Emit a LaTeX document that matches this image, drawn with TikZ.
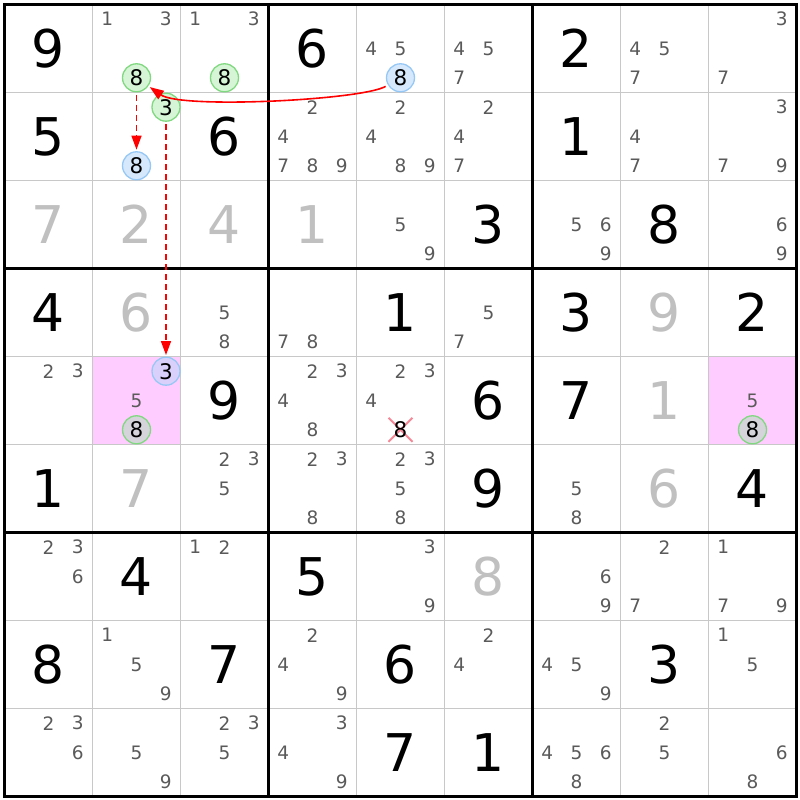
\documentclass[tikz,border=0pt]{standalone}
\usepackage{fontspec}
\setmainfont{DejaVu Sans}
\usetikzlibrary{arrows.meta}
\definecolor{candc}{RGB}{90,90,90}
\definecolor{solvedc}{RGB}{192,192,192}
\definecolor{thinc}{RGB}{200,200,200}
\definecolor{pinkc}{RGB}{255,204,255}
\definecolor{gstroke}{RGB}{128,216,128}
\definecolor{gfill}{RGB}{214,245,214}
\definecolor{bstroke}{RGB}{150,200,245}
\definecolor{bfill}{RGB}{214,232,252}
\definecolor{lavfill}{RGB}{218,208,252}
\definecolor{greyfill}{RGB}{212,212,218}
\definecolor{xcol}{RGB}{245,135,150}
\definecolor{linkc}{RGB}{255,0,0}
\tikzset{
  given/.style={inner sep=0pt, font=\fontsize{52bp}{52bp}\selectfont, text=black},
  solved/.style={given, text=solvedc},
  cand/.style={inner sep=0pt, font=\fontsize{18.5bp}{18.5bp}\selectfont, text=candc},
  bigcand/.style={inner sep=0pt, font=\fontsize{21.5bp}{21.5bp}\selectfont, text=black},
  circ/.style={circle, minimum size=28bp, inner sep=0pt, line width=1.3bp, font=\fontsize{21.5bp}{21.5bp}\selectfont, text=black},
  gcirc/.style={circ, draw=gstroke, fill=gfill},
  bcirc/.style={circ, draw=bstroke, fill=bfill},
  arr/.style={draw=linkc, line width=1.6bp, -{Triangle[length=14bp,width=10bp]}, shorten >=1.5bp, shorten <=2.5bp},
  darr/.style={arr, dash pattern=on 6bp off 4bp}
}
\begin{document}
\begin{tikzpicture}[x=1bp,y=1bp]
\useasboundingbox (0,0) rectangle (800,800);
\fill[white] (0,0) rectangle (800,800);
% highlighted cells
\fill[pinkc] (92.5,443.5) rectangle (180.5,355.5);
\fill[pinkc] (708.5,443.5) rectangle (796.5,355.5);
% thin grid lines
\foreach \i in {1,2,4,5,7,8} {
  \draw[thinc, line width=1.5bp] (4.5+88*\i,3.5) -- (4.5+88*\i,795.5);
  \draw[thinc, line width=1.5bp] (4.5,795.5-88*\i) -- (796.5,795.5-88*\i);
}
% thick grid lines
\foreach \i in {3,6} {
  \draw[black, line width=3bp] (4.5+88*\i,3.5) -- (4.5+88*\i,795.5);
  \draw[black, line width=3bp] (4.5,795.5-88*\i) -- (796.5,795.5-88*\i);
}
\draw[black, line width=3bp] (4.5,3.5) rectangle (796.5,795.5);
% givens
\foreach \r/\c/\d in {1/1/9,1/4/6,1/7/2,2/1/5,2/3/6,2/7/1,3/6/3,3/8/8,4/1/4,4/5/1,4/7/3,4/9/2,5/3/9,5/6/6,5/7/7,6/1/1,6/6/9,6/9/4,7/2/4,7/4/5,8/1/8,8/3/7,8/5/6,8/8/3,9/5/7,9/6/1} {
  \pgfmathsetmacro\X{4.5+(\c-0.5)*88}
  \pgfmathsetmacro\Y{795.5-(\r-0.5)*88}
  \node[given] (v-\r-\c) at (\X,\Y) {\d};
}
% solved
\foreach \r/\c/\d in {3/1/7,3/2/2,3/3/4,3/4/1,4/2/6,4/8/9,5/8/1,6/2/7,6/8/6,7/6/8} {
  \pgfmathsetmacro\X{4.5+(\c-0.5)*88}
  \pgfmathsetmacro\Y{795.5-(\r-0.5)*88}
  \node[solved] (s-\r-\c) at (\X,\Y) {\d};
}
% candidates
\foreach \r/\c/\L in {1/2/{1,3},1/3/{1,3},1/5/{4,5},1/6/{4,5,7},1/8/{4,5,7},1/9/{3,7},
  2/4/{2,4,7,8,9},2/5/{2,4,8,9},2/6/{2,4,7},2/8/{4,7},2/9/{3,7,9},
  3/5/{5,9},3/7/{5,6,9},3/9/{6,9},
  4/3/{5,8},4/4/{7,8},4/6/{5,7},
  5/1/{2,3},5/2/{5},5/4/{2,3,4,8},5/5/{2,3,4},5/9/{5},
  6/3/{2,3,5},6/4/{2,3,8},6/5/{2,3,5,8},6/7/{5,8},
  7/1/{2,3,6},7/3/{1,2},7/5/{3,9},7/7/{6,9},7/8/{2,7},7/9/{1,7,9},
  8/2/{1,5,9},8/4/{2,4,9},8/6/{2,4},8/7/{4,5,9},8/9/{1,5},
  9/1/{2,3,6},9/2/{5,9},9/3/{2,3,5},9/4/{3,4,9},9/7/{4,5,6,8},9/8/{2,5},9/9/{6,8}} {
  \foreach \d in \L {
    \pgfmathsetmacro\X{4.5+(\c-0.5)*88+(mod(\d-1,3)-1)*29.3}
    \pgfmathsetmacro\Y{795.5-(\r-0.5)*88-(int((\d-1)/3)-1)*29.3}
    \node[cand] (k-\r-\c-\d) at (\X,\Y) {\d};
  }
}
% eliminated candidate
\draw[xcol, line width=2bp] (388.5,358.2) -- (412.5,382.2);
\draw[xcol, line width=2bp] (388.5,382.2) -- (412.5,358.2);
\node[bigcand] (x558) at (400.5,370.2) {8};
% circled candidates
\node[gcirc] (a128) at (136.5,722.2) {8};
\node[gcirc] (a138) at (224.5,722.2) {8};
\node[bcirc] (a158) at (400.5,722.2) {8};
\node[gcirc] (a223) at (166,692.8) {3};
\node[bcirc] (a228) at (136.5,634.2) {8};
\node[bcirc, fill=lavfill] (a523) at (166,428.8) {3};
\node[gcirc, fill=greyfill] (a528) at (136.5,370.2) {8};
\node[gcirc, fill=greyfill] (a598) at (752.5,370.2) {8};
% links
\draw[arr] (a158) to[out=-150, in=-35, out distance=30bp, in distance=40bp] (a128);
\draw[darr] (a128) -- (a228);
\draw[darr] (a223) -- (a523);
\end{tikzpicture}
\end{document}
